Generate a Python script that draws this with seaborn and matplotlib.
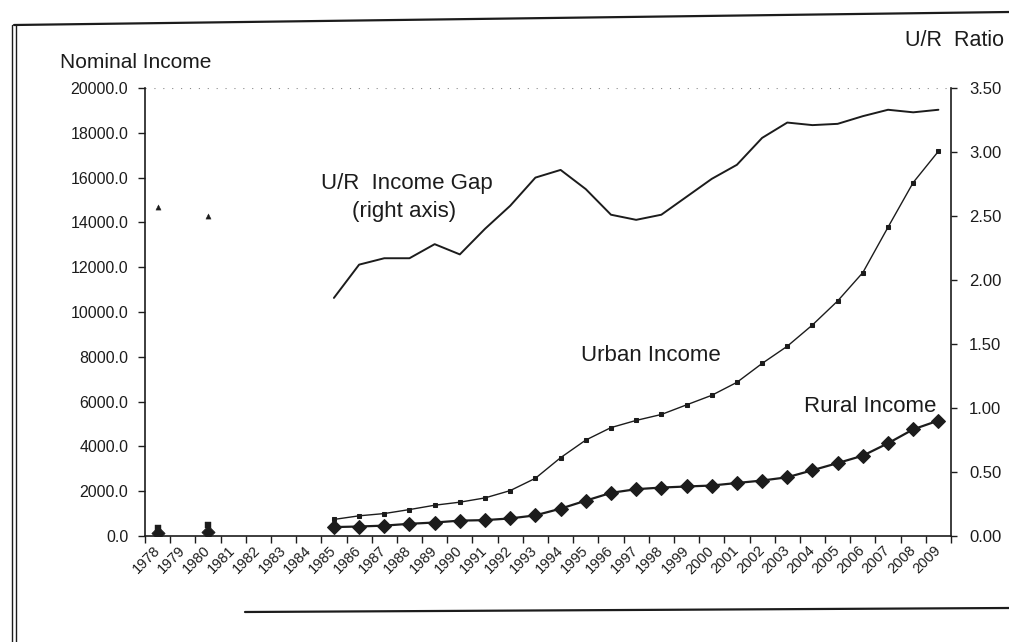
import numpy as np
import pandas as pd
import matplotlib.pyplot as plt
import seaborn as sns
from matplotlib.lines import Line2D
from matplotlib.ticker import FormatStrFormatter

sns.set_theme(style="white")
plt.rcParams["font.family"] = ["Liberation Sans", "DejaVu Sans"]

# -----------------------------------
# Data
# -----------------------------------
years = [str(y) for y in range(1978, 2010)]
nan = np.nan

urban_income = [343, nan, 478, nan, nan, nan, nan,
                739, 901, 1002, 1180, 1374, 1510, 1701, 2027, 2577, 3496,
                4283, 4839, 5160, 5425, 5854, 6280, 6860, 7703, 8472, 9422,
                10493, 11760, 13786, 15781, 17175]

rural_income = [134, nan, 191, nan, nan, nan, nan,
                398, 424, 463, 545, 602, 686, 709, 784, 922, 1221,
                1578, 1926, 2090, 2162, 2210, 2253, 2366, 2476, 2622, 2936,
                3255, 3587, 4140, 4761, 5153]

ur_ratio = [2.57, nan, 2.50, nan, nan, nan, nan,
            1.86, 2.12, 2.17, 2.17, 2.28, 2.20, 2.40, 2.58, 2.80, 2.86,
            2.71, 2.51, 2.47, 2.51, 2.65, 2.79, 2.90, 3.11, 3.23, 3.21,
            3.22, 3.28, 3.33, 3.31, 3.33]

df = pd.DataFrame({
    "year": years,
    "pos": np.arange(len(years)),
    "urban": urban_income,
    "rural": rural_income,
    "ratio": ur_ratio,
})
early = df[df["year"].isin(["1978", "1980"])]
late = df[df["pos"] >= 7]

ink = "#1c1c1c"

# -----------------------------------
# Figure
# -----------------------------------
fig = plt.figure(figsize=(10.09, 6.42), dpi=100)
ax = fig.add_axes([145 / 1009, 1 - 536 / 642, 806 / 1009, 448 / 642])
ax2 = ax.twinx()

# income lines (left axis)
sns.lineplot(data=late, x="pos", y="urban", ax=ax, color=ink, lw=1.0,
             marker="s", markersize=3.5, markeredgecolor=ink)
sns.lineplot(data=late, x="pos", y="rural", ax=ax, color=ink, lw=1.6,
             marker="D", markersize=7, markeredgecolor=ink)
sns.scatterplot(data=early, x="pos", y="urban", ax=ax, color=ink,
                marker="s", s=14, edgecolor=ink)
sns.scatterplot(data=early, x="pos", y="rural", ax=ax, color=ink,
                marker="D", s=45, edgecolor=ink)

# ratio line (right axis)
sns.lineplot(data=late, x="pos", y="ratio", ax=ax2, color=ink, lw=1.4)
sns.scatterplot(data=early, x="pos", y="ratio", ax=ax2, color=ink,
                marker="^", s=14, edgecolor=ink)

# faint dotted line along the top of the plot
ax.axhline(20000, color="#8a8a8a", lw=0.8, ls=(0, (1, 7)), zorder=0)

# -----------------------------------
# Axes styling
# -----------------------------------
ax.set_xlim(-0.5, len(years) - 0.5)
ax.set_ylim(0, 20000)
ax2.set_ylim(0, 3.5)

ax.set_xticks(df["pos"])
ax.set_xticklabels(years, rotation=45, ha="right", va="center",
                   rotation_mode="anchor", fontsize=10.5, color=ink)
ax.set_xticks(np.arange(-0.5, len(years), 1), minor=True)
ax.tick_params(axis="x", which="major", length=0, pad=9)
ax.tick_params(axis="x", which="minor", bottom=True, length=5,
               width=1, color=ink, direction="out")

ax.set_yticks(np.arange(0, 20001, 2000))
ax.yaxis.set_major_formatter(FormatStrFormatter("%.1f"))
ax.tick_params(axis="y", left=True, length=5, width=1, color=ink,
               direction="out", labelsize=11.5, labelcolor=ink, pad=7)

ax2.set_yticks(np.arange(0, 3.51, 0.5))
ax2.yaxis.set_major_formatter(FormatStrFormatter("%.2f"))
ax2.tick_params(axis="y", right=True, length=4, width=1, color=ink,
                direction="out", labelsize=12, labelcolor=ink, pad=9)

for a in (ax, ax2):
    a.set_xlabel("")
    a.set_ylabel("")
    a.spines["top"].set_visible(False)
    for s in a.spines.values():
        s.set_color(ink)
        s.set_linewidth(1.2)
ax.spines["right"].set_visible(False)
ax2.spines["left"].set_visible(False)
ax2.spines["bottom"].set_visible(False)

# -----------------------------------
# Labels
# -----------------------------------
fig.text(60 / 1009, 1 - 62 / 642, "Nominal Income", fontsize=15,
         color=ink, ha="left", va="center")
fig.text(1004 / 1009, 1 - 40 / 642, "U/R  Ratio", fontsize=15.5,
         color=ink, ha="right", va="center")

ax.text(9.9, 15750, "U/R  Income Gap", fontsize=16, color=ink,
        ha="center", va="center")
ax.text(9.8, 14500, "(right axis)", fontsize=16, color=ink,
        ha="center", va="center")
ax.text(19.6, 8080, "Urban Income", fontsize=16, color=ink,
        ha="center", va="center")
ax.text(28.3, 5760, "Rural Income", fontsize=16, color=ink,
        ha="center", va="center")

# -----------------------------------
# Scanned page frame
# -----------------------------------
def px_line(x0, y0, x1, y1, lw=1.2):
    fig.add_artist(Line2D([x0 / 1009, x1 / 1009], [1 - y0 / 642, 1 - y1 / 642],
                          transform=fig.transFigure, color=ink, lw=lw))

px_line(14, 25, 1009, 12, lw=1.6)
px_line(12, 25, 12, 642, lw=1.0)
px_line(16, 25, 16, 642, lw=1.0)
px_line(245, 612, 1009, 608, lw=1.6)

fig.savefig("out.png", dpi=100)
